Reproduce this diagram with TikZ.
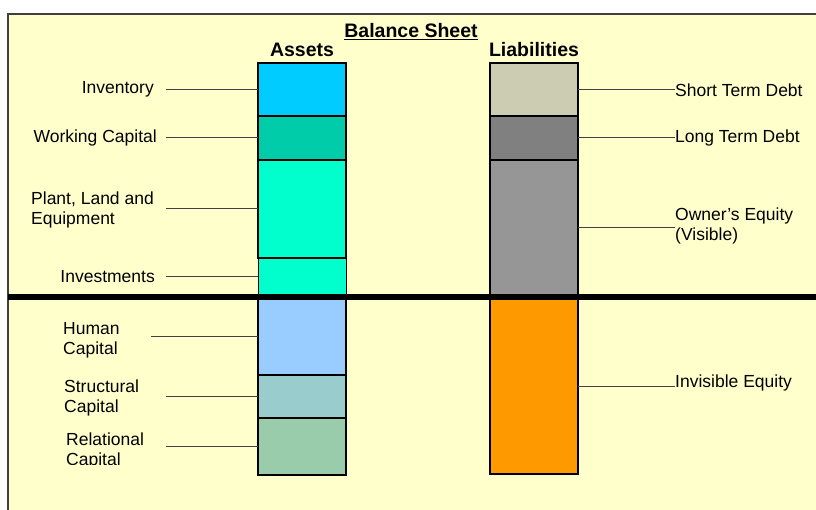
\documentclass[tikz,border=0pt]{standalone}
\usepackage{fontspec}
\setmainfont{Liberation Sans}
\definecolor{paper}{HTML}{FFFFCC}
\definecolor{invc}{HTML}{00CCFF}
\definecolor{wcc}{HTML}{00CCAA}
\definecolor{plc}{HTML}{00FFCC}
\definecolor{humc}{HTML}{99CCFF}
\definecolor{strc}{HTML}{99CCCC}
\definecolor{relc}{HTML}{99CCAA}
\definecolor{stdc}{HTML}{CCCCB3}
\definecolor{ltdc}{HTML}{808080}
\definecolor{oec}{HTML}{969696}
\definecolor{iec}{HTML}{FF9900}
\begin{document}
\begin{tikzpicture}[x=1pt,y=-1pt,
  blok/.style={rectangle,draw=black,line width=1.3pt,minimum width=88pt,inner sep=0pt,outer sep=0pt},
  lbl/.style={inner sep=0pt,font=\fontsize{17.5}{20}\selectfont,align=left},
  kop/.style={inner sep=0pt,font=\fontsize{19.5}{22}\selectfont\bfseries},
  lead/.style={draw=black!75,line width=1pt}]
\useasboundingbox (0,0) rectangle (816,510);
\draw[fill=paper,draw=black!75,line width=1.5pt] (8,14) rectangle (840,540);
\node[kop] (bs) at (411,32) {\underline{Balance Sheet}};
\node[kop] (as) at (302,50) {Assets};
\node[kop] (li) at (534,50) {Liabilities};
\node[blok,fill=invc,minimum height=53pt] (inv) at (302,89.5) {};
\node[blok,fill=wcc,minimum height=44pt] (wc) at (302,138) {};
\node[blok,fill=plc,minimum height=98pt] (ple) at (302,209) {};
\node[blok,fill=plc,minimum height=38pt,line width=0.8pt] (ivs) at (302,277) {};
\node[blok,fill=humc,minimum height=76pt] (hum) at (302,337) {};
\node[blok,fill=strc,minimum height=43pt] (str) at (302,396.5) {};
\node[blok,fill=relc,minimum height=57pt] (rel) at (302,446.5) {};
\node[blok,fill=stdc,minimum height=53pt] (std) at (534,89.5) {};
\node[blok,fill=ltdc,minimum height=44pt] (ltd) at (534,138) {};
\node[blok,fill=oec,minimum height=136pt] (oe) at (534,228) {};
\node[blok,fill=iec,minimum height=175pt] (ie) at (534,386.5) {};
\draw[line width=6pt] (8,297) coordinate (hl) -- (816,297) coordinate (hr);
\coordinate (lx) at (166,0);
\coordinate (hx) at (151,0);
\node[lbl,anchor=east] (tinv) at (154,89) {Inventory};
\node[lbl,anchor=east] (twc) at (157,138) {Working Capital};
\node[lbl,anchor=west] (tple) at (31,210) {Plant, Land and\\Equipment};
\node[lbl,anchor=east] (tivs) at (155,277) {Investments};
\node[lbl,anchor=west] (thum) at (63,340) {Human\\Capital};
\node[lbl,anchor=west] (tstr) at (64,398) {Structural\\Capital};
\begin{scope}
\clip (0,0) rectangle (816,464);
\node[lbl,anchor=west] (trel) at (66,451) {Relational\\Capital};
\end{scope}
\node[lbl,anchor=west] (tstd) at (675,90) {Short Term Debt};
\node[lbl,anchor=west] (tltd) at (675,138) {Long Term Debt};
\node[lbl,anchor=west] (toe) at (675,226) {Owner's Equity\\(Visible)};
\node[lbl,anchor=west] (tie) at (675,383) {Invisible Equity};
\draw[lead] (inv.west) -- (inv.west -| lx);
\draw[lead] (wc.west) -- (wc.west -| lx);
\draw[lead] (ple.west) -- (ple.west -| lx);
\draw[lead] (ivs.west) -- (ivs.west -| lx);
\draw[lead] (hum.west) -- (hum.west -| hx);
\draw[lead] (str.west) -- (str.west -| lx);
\draw[lead] (rel.west) -- (rel.west -| lx);
\draw[lead] (std.east) -- (std.east -| tstd.west);
\draw[lead] (ltd.east) -- (ltd.east -| tltd.west);
\draw[lead] (oe.east) -- (oe.east -| toe.west);
\draw[lead] (ie.east) -- (ie.east -| tie.west);
\end{tikzpicture}
\end{document}
